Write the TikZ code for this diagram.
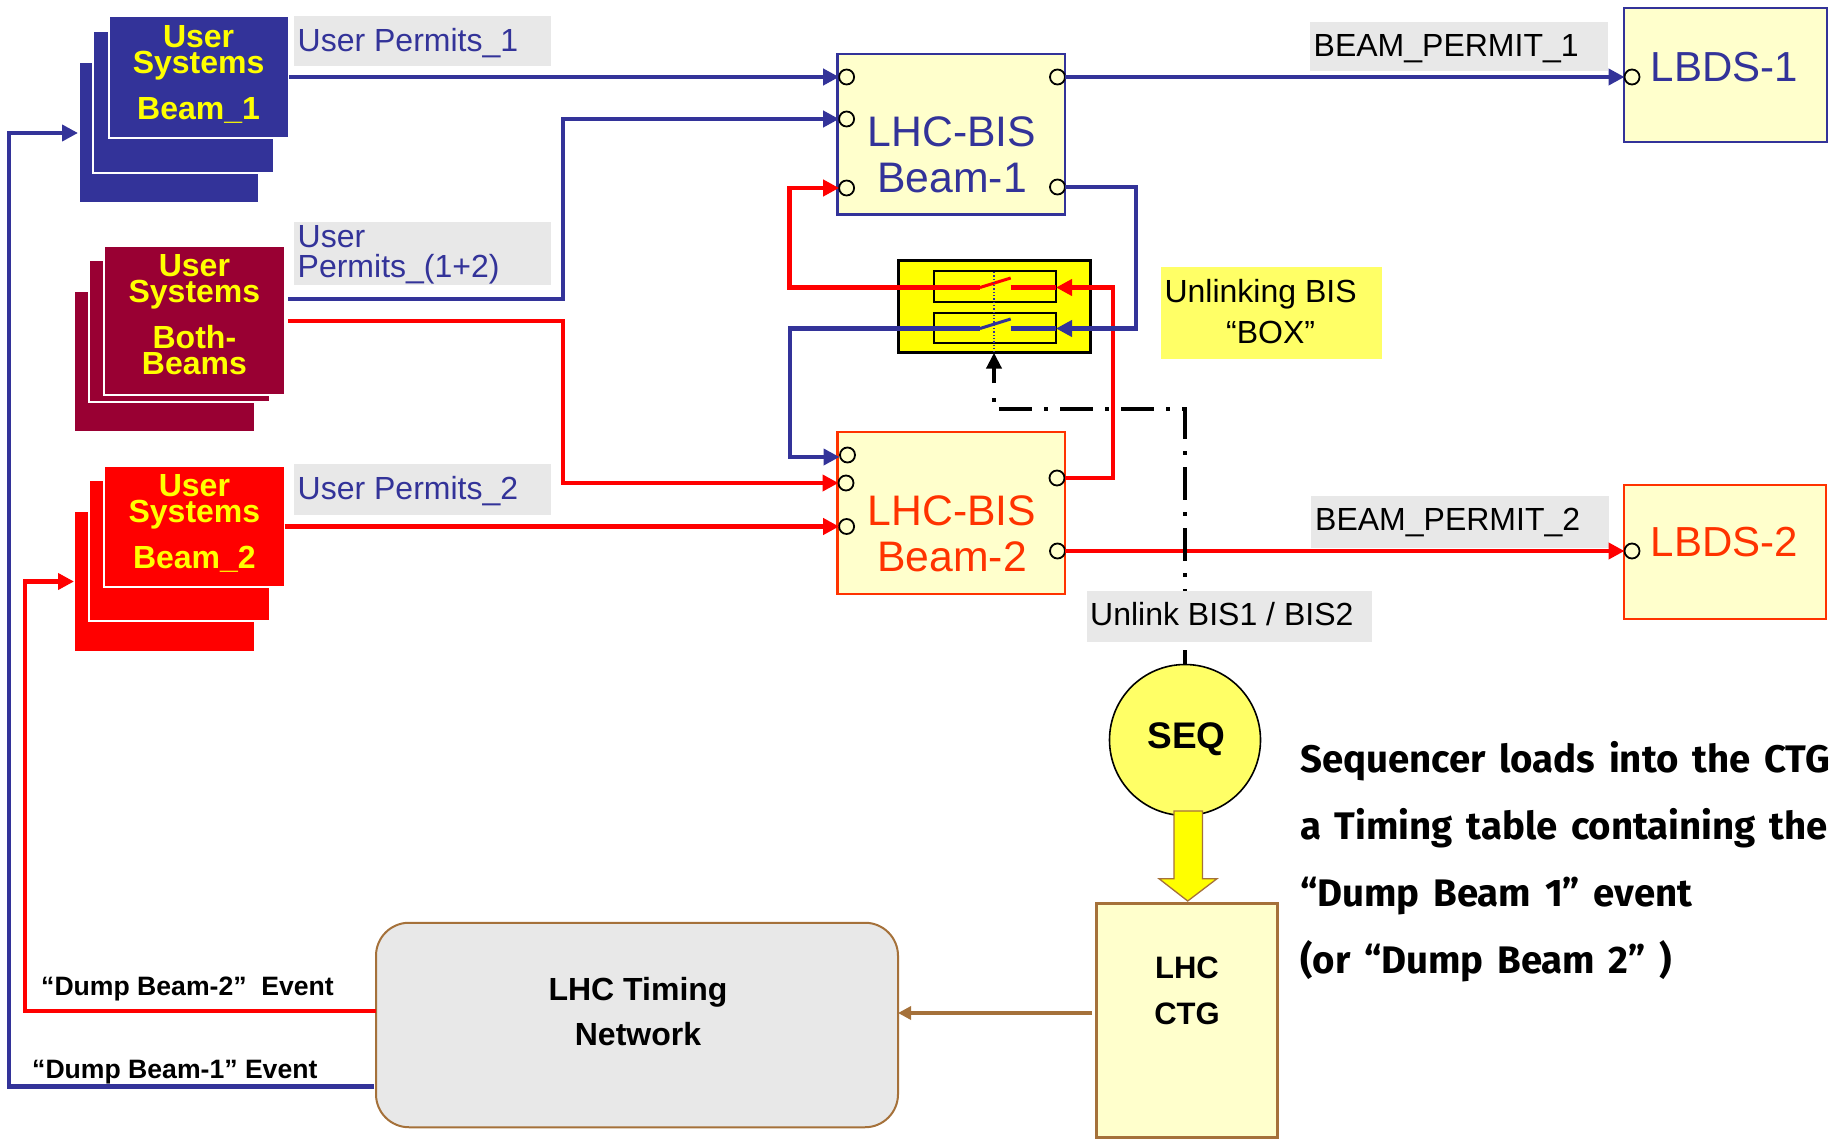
\documentclass[tikz,border=0pt]{standalone}
\usepackage{fontspec}
\setmainfont{Liberation Sans}
\newfontfamily\handfont[WordSpace=1.5]{Fira Sans}
\usetikzlibrary{arrows.meta,shapes.geometric}
\lineskiplimit=-100pt
\definecolor{bisblue}{HTML}{333399}
\definecolor{bismaroon}{HTML}{990033}
\definecolor{bisred}{HTML}{FF0000}
\definecolor{bisorange}{HTML}{FF3300}
\definecolor{bisbrown}{HTML}{A5713A}
\definecolor{paleyellow}{HTML}{FFFFCC}
\definecolor{softyellow}{HTML}{FFFF66}
\definecolor{bisyellow}{HTML}{FFFF00}
\definecolor{labelgray}{HTML}{E8E8E8}
\newcommand{\boxn}[6]{%
  \pgfmathsetmacro{\bxw}{#4-#2}\pgfmathsetmacro{\bxh}{#5-#3}%
  \node[inner sep=0pt,outer sep=0pt,minimum width=\bxw pt,minimum height=\bxh pt,#6] (#1) at ({(#2+#4)/2},{(#3+#5)/2}) {};}
\tikzset{
  bigtip/.tip={Triangle[length=16pt,width=16pt]},
  stackb/.style={fill=bisblue,draw=white,line width=2pt},
  stackm/.style={fill=bismaroon,draw=white,line width=2pt},
  stackr/.style={fill=bisred,draw=white,line width=2pt},
  graylabel/.style={fill=labelgray},
  bisbox/.style={fill=paleyellow,line width=2.2pt},
  port/.style={circle,draw=black,fill=paleyellow,line width=1.8pt,minimum size=15pt,inner sep=0pt,outer sep=0pt},
  bline/.style={draw=bisblue,line width=4.2pt},
  rline/.style={draw=bisred,line width=4.2pt},
  usertext/.style={text=bisyellow,font=\fontsize{32}{26}\selectfont\bfseries,align=center,anchor=center,inner sep=0pt},
  permit/.style={text=bisblue,font=\fontsize{32}{30}\selectfont,anchor=base west,align=left,inner sep=0pt},
  beamtext/.style={text=black,font=\fontsize{32}{30}\selectfont,anchor=base west,inner sep=0pt},
  big/.style={font=\fontsize{42}{46.5}\selectfont,align=center,anchor=center,inner sep=0pt},
  bigger/.style={font=\fontsize{42.7}{46.5}\selectfont,align=center,anchor=center,inner sep=0pt},
  blacktext/.style={text=black,font=\fontsize{26.6}{30}\selectfont\bfseries,anchor=base west,inner sep=0pt},
}
\begin{document}
\begin{tikzpicture}[x=1pt,y=-1pt]
\useasboundingbox (0,0) rectangle (1836,1139);
% user stacks
\boxn{ub3}{79.5}{63}{258}{202}{fill=bisblue}
\boxn{ub2}{93}{31}{274}{173}{stackb}
\boxn{ub1}{108.5}{16.5}{289}{138.5}{stackb}
\boxn{um3}{75}{292}{253.5}{431}{fill=bismaroon}
\boxn{um2}{88.5}{260.5}{269.5}{402}{stackm}
\boxn{um1}{104}{246}{284.5}{395}{stackm}
\boxn{ur3}{75}{511.5}{253.5}{650.5}{fill=bisred}
\boxn{ur2}{88.5}{480}{269.5}{621}{stackr}
\boxn{ur1}{104}{465.5}{284.5}{586.5}{stackr}
\node[usertext] (tub) at (198.6,74) {User\\Systems\\[20pt]Beam\_1};
\node[usertext] (tum) at (194.4,315) {User\\Systems\\[20pt]Both-\\Beams};
\node[usertext] (tur) at (194.4,523) {User\\Systems\\[20pt]Beam\_2};
% labels
\boxn{lab1}{294}{16}{551}{66}{graylabel}
\boxn{lab2}{294}{222}{551}{285}{graylabel}
\boxn{lab3}{294}{464}{551}{515}{graylabel}
\boxn{lab4}{1310}{22}{1608}{71}{graylabel}
\boxn{lab5}{1311}{496}{1609}{548}{graylabel}
\node[permit] (tl1) at (297.5,52) {User Permits\_1};
\node[permit] (tl2) at (297.5,278) {User\\Permits\_(1+2)};
\node[permit] (tl3) at (297.5,499.5) {User Permits\_2};
\node[beamtext] (tl4) at (1313.5,56.5) {BEAM\_PERMIT\_1};
\node[beamtext] (tl5) at (1315,530.5) {BEAM\_PERMIT\_2};
% BIS boxes
\boxn{bis1}{837.5}{54}{1065}{214.5}{bisbox,draw=bisblue}
\boxn{bis2}{837.5}{432}{1065}{594}{bisbox,draw=bisorange}
\boxn{lb1}{1624}{8}{1827}{142}{bisbox,draw=bisblue}
\boxn{lb2}{1624}{485}{1826}{619}{bisbox,draw=bisorange}
\node[bigger,text=bisblue] (tb1) at (952,155) {LHC-BIS\\Beam-1};
\node[bigger,text=bisorange] (tb2) at (952,534) {LHC-BIS\\Beam-2};
\node[big,text=bisblue] (tl1d) at (1724.5,67) {LBDS-1};
\node[big,text=bisorange] (tl2d) at (1724.5,542) {LBDS-2};
% unlink box
\boxn{yb}{898}{261}{1090}{352.7}{fill=bisyellow,draw=black,line width=3pt}
\boxn{r1}{934}{271}{1056}{302}{draw=black,line width=2.2pt}
\boxn{r2}{934}{312.7}{1056}{343}{draw=black,line width=2.2pt}
\boxn{unl}{1161}{267}{1382}{359}{fill=softyellow}
\node[font=\fontsize{32}{41}\selectfont,align=center,inner sep=0pt] (tunl) at (1260.6,312) {Unlinking BIS\\\hspace*{20pt}“BOX”};
% ports
\node[port] (p1a) at (846.6,77) {};
\node[port] (p1b) at (846.6,119) {};
\node[port] (p1c) at (846.6,188) {};
\node[port] (p1r) at (1057.5,77) {};
\node[port] (p1s) at (1057.5,187) {};
\node[port] (p2a) at (847.5,455) {};
\node[port] (p2b) at (846,483) {};
\node[port] (p2c) at (846.6,526.5) {};
\node[port] (p2r) at (1057,478) {};
\node[port] (p2s) at (1057.5,551) {};
\node[port] (l1p) at (1632,77) {};
\node[port] (l2p) at (1632,551) {};
% rails and waypoints
\coordinate (rail) at (563,0);
\coordinate (bout) at (288,299);
\coordinate (rout) at (288,321);
\coordinate (c1m) at (980,287.5);
\coordinate (c1t) at (1010.7,278);
\coordinate (c1r) at (1010.7,287.5);
\coordinate (c2m) at (980,328.5);
\coordinate (c2t) at (1010.7,319);
\coordinate (c2r) at (1010.7,328.5);
\coordinate (rrail) at (789.5,0);
\coordinate (brail) at (790,0);
\coordinate (rrail2) at (1113,0);
\coordinate (brail2) at (1135.7,0);
\coordinate (p2ain) at (839.5,457);
% user connectors
\draw[bline,-bigtip] (ub1.east |- p1a.center) -- (p1a.west);
\draw[bline,-bigtip] (bout) -| (rail |- p1b.center) -- (p1b.west);
\draw[rline,-bigtip] (rout) -| (rail |- p2b.center) -- (p2b.west);
\draw[rline,-bigtip] (ur1.east |- p2c.center) -- (p2c.west);
\draw[bline,-bigtip] (p1r.east) -- (l1p.west);
\draw[rline,-bigtip] (p2s.east) -- (l2p.west);
% unlink connectors
\draw[rline,-bigtip] (c1m) -- (rrail |- c1m) |- (p1c.west);
\draw[rline,-bigtip] (p2r.east) -| (rrail2 |- c1r) -- (r1.east |- c1r);
\draw[rline] (c1r) -- (r1.east |- c1r);
\draw[bisred,line width=3pt] (c1m) -- (c1t);
\draw[bline,-bigtip] (c2m) -- (brail |- c2m) |- (p2ain);
\draw[bline,-bigtip] (p1s.east) -| (brail2 |- c2r) -- (r2.east |- c2r);
\draw[bline] (c2r) -- (r2.east |- c2r);
\draw[bisblue,line width=3pt] (c2m) -- (c2t);
\coordinate (dt) at (994,272);
\draw[bisblue,line width=1.3pt,dotted] (dt) -- (yb.south -| dt);
% sequencer
\node[circle,draw=black,fill=softyellow,line width=1.6pt,minimum size=151pt,inner sep=0pt,outer sep=0pt] (seq) at (1185,740) {};
\node[font=\fontsize{37}{37}\selectfont\bfseries,inner sep=0pt,anchor=base] (tseq) at (1186.5,748) {SEQ};
% control line
\coordinate (ctail) at (994,383);
\coordinate (dd0) at (994,398);
\coordinate (dd1) at (994,409);
\coordinate (dd2) at (1185,409);
\draw[black,line width=4pt,-{Triangle[length=16pt,width=15pt]}] (ctail) -- (yb.south -| ctail);
\draw[black,line width=4pt,dash pattern=on 4pt off 12pt on 33pt off 12pt] (dd0) -- (dd1) -- (dd2) -- (seq.north -| dd2);
\boxn{lab6}{1087}{591}{1372}{642}{graylabel}
\node[beamtext] (tl6) at (1090,625) {Unlink BIS1 / BIS2};
% CTG and arrow
\boxn{ctg}{1096}{903}{1277}{1137}{fill=paleyellow,draw=bisbrown,line width=3pt}
\node[font=\fontsize{31}{46}\selectfont\bfseries,align=center,inner sep=0pt] (tctg) at (1187,991) {LHC\\CTG};
\draw[fill=bisyellow,draw=bisbrown,line width=1.3pt] (1174,811) -- (1202.4,811) -- (1202.4,878.7) -- (1217,878.7) -- (1187.7,901) -- (1159,878.7) -- (1174,878.7) -- cycle;
% timing network
\node[draw=bisbrown,fill=labelgray,line width=2pt,rounded corners=33pt,minimum width=522pt,minimum height=204.5pt,inner sep=0pt,outer sep=0pt] (tn) at (637,1025) {};
\node[font=\fontsize{32}{45}\selectfont\bfseries,align=center,inner sep=0pt] (ttn) at (638,1012) {LHC Timing\\Network};
\coordinate (ctgout) at (1092,1013);
\draw[bisbrown,line width=3.5pt,-{Triangle[length=13pt,width=13pt]}] (ctgout) -- (tn.east |- ctgout);
% dump events
\coordinate (redy) at (376,1011);
\coordinate (bluey) at (374,1086.5);
\coordinate (urin) at (74,581.5);
\coordinate (ubin) at (78,133);
\coordinate (rvert) at (25,0);
\coordinate (bvert) at (9,0);
\draw[rline,-bigtip] (redy) -- (rvert |- redy) |- (urin);
\draw[bline,-bigtip] (bluey) -- (bvert |- bluey) |- (ubin);
\node[blacktext] (td2) at (41,995) {“Dump Beam-2”\ \ Event};
\node[blacktext] (td1) at (32,1078) {“Dump Beam-1” Event};
% note
\node[font=\fontsize{38.4}{67}\selectfont\handfont\bfseries,align=left,anchor=north west,inner sep=0pt] (note) at (1300,741.5) {Sequencer loads into the CTG\\a Timing table containing the\\“Dump Beam 1” event\\(or “Dump Beam 2” )};
\end{tikzpicture}
\end{document}
